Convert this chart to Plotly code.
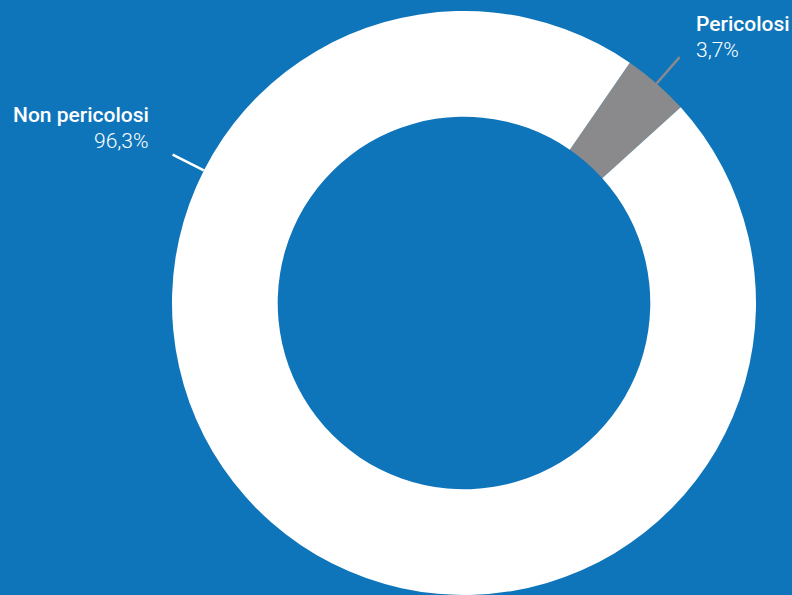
import math
import plotly.graph_objects as go

labels = ["Pericolosi", "Non pericolosi"]
values = [3.7, 96.3]
value_text = ["3,7%", "96,3%"]
colors = ["#8A8A8C", "#FFFFFF"]

W, H = 792, 595
BG = "#0E75BB"
cx, cy = 464, 303        # pixel centre of the donut (from top-left)
R = 292                  # outer radius in px
rotation = 34.6

fig = go.Figure(go.Pie(
    labels=labels, values=values, sort=False, direction="clockwise",
    rotation=rotation, hole=0.638,
    marker=dict(colors=colors, line=dict(width=0)),
    textinfo="none", hoverinfo="label+percent", showlegend=False,
    domain=dict(x=[(cx - R) / W, (cx + R) / W], y=[0, 2 * R / H]),
))

def px2paper(x, y):
    return x / W, 1 - y / H

# leader lines (angles measured clockwise from 12 o'clock)
total = sum(values)
mid_peric = rotation + 360 * values[0] / total / 2
line_specs = [
    (mid_peric, "#8A8A8C"),
    (297.0, "#FFFFFF"),
]
for ang, col in line_specs:
    a = math.radians(ang)
    x0, y0 = cx + R * math.sin(a), cy - R * math.cos(a)
    x1, y1 = cx + (R + 35) * math.sin(a), cy - (R + 35) * math.cos(a)
    p0 = px2paper(x0, y0); p1 = px2paper(x1, y1)
    fig.add_shape(type="line", xref="paper", yref="paper",
                  x0=p0[0], y0=p0[1], x1=p1[0], y1=p1[1],
                  line=dict(color=col, width=2.5))

font_name = "Roboto"
ann = [
    (labels[0], 694, 24, "left", 500),
    (value_text[0], 694, 50, "left", 300),
    (labels[1], 151, 115, "right", 500),
    (value_text[1], 151, 141, "right", 300),
]
for txt, x, y, xa, wt in ann:
    px, py = px2paper(x, y)
    fig.add_annotation(text=txt, x=px, y=py, xref="paper", yref="paper",
                       xanchor=xa, yanchor="middle", showarrow=False,
                       font=dict(family=font_name, size=21, color="white", weight=wt))

fig.update_layout(
    width=W, height=H, paper_bgcolor=BG, plot_bgcolor=BG,
    margin=dict(l=0, r=0, t=0, b=0),
)
fig.write_html(
    "out.html",
    config={"displayModeBar": False},
    post_script="document.body.style.margin='0';document.body.style.background='%s';" % BG,
)
